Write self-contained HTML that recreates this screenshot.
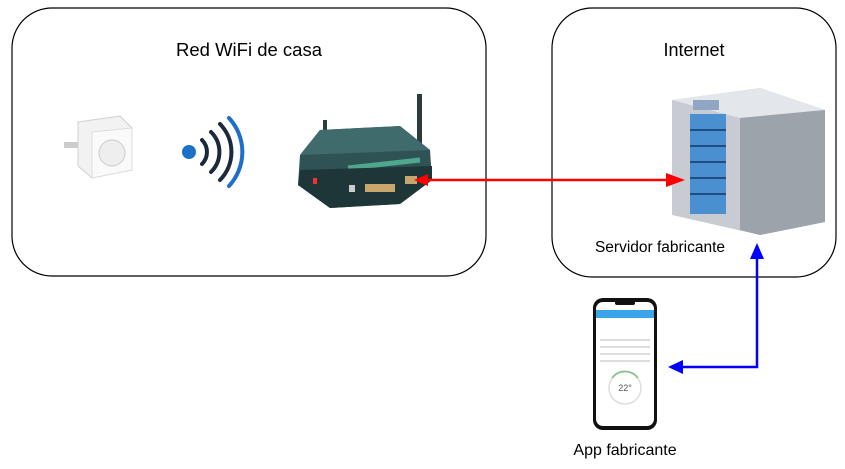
<!DOCTYPE html>
<html><head><meta charset="utf-8"><style>body{margin:0;background:#fff}svg{display:block}text{font-family:"Liberation Sans",Arial,sans-serif}</style></head>
<body>
<svg width="845" height="469" viewBox="0 0 845 469" xmlns="http://www.w3.org/2000/svg">
<rect x="12" y="8" width="474" height="268" rx="40" fill="#fff" stroke="#000" stroke-width="1.2"/>
<rect x="552" y="8" width="284" height="269" rx="40" fill="#fff" stroke="#000" stroke-width="1.2"/>
<text x="249" y="56" font-size="18.5" text-anchor="middle">Red WiFi de casa</text>
<text x="694" y="56" font-size="18" text-anchor="middle">Internet</text>
<text x="660" y="252" font-size="15.5" text-anchor="middle">Servidor fabricante</text>
<text x="625" y="455" font-size="16" text-anchor="middle">App fabricante</text>
<!-- plug -->
<g>
<path d="M78 122 L120 116 L132 128 L132 170 L92 178 L78 166 Z" fill="#f2f2f2" stroke="#d0d0d0"/>
<path d="M92 132 L132 128 L132 170 L92 178 Z" fill="#fafafa" stroke="#ddd"/>
<circle cx="112" cy="153" r="13" fill="#eee" stroke="#ccc"/>
<rect x="64" y="142" width="14" height="6" fill="#ccc"/>
</g>
<!-- wifi -->
<circle cx="189" cy="152" r="7" fill="#1e6fc8"/>
<g fill="none" stroke-linecap="round" stroke-width="4">
<path d="M202 140 A17 17 0 0 1 202 164" stroke="#1b2a3a"/>
<path d="M211 132 A28 28 0 0 1 211 172" stroke="#1b2a3a"/>
<path d="M220 124 A40 40 0 0 1 220 180" stroke="#1b2a3a"/>
<path d="M229 118 A50 50 0 0 1 229 186" stroke="#1e6fc8"/>
</g>
<!-- router -->
<g>
<rect x="323" y="120" width="4" height="70" fill="#2b3c40"/>
<rect x="417" y="94" width="5" height="70" fill="#2b3c40"/>
<path d="M300 155 L320 130 L400 126 L430 150 L432 180 L400 204 L330 208 L298 185 Z" fill="#2f5254"/>
<path d="M320 130 L400 126 L430 150 L300 155 Z" fill="#3f6b6c"/>
<path d="M348 168 L420 160" stroke="#4fa88e" stroke-width="5"/>
<path d="M298 185 L330 208 L400 204 L432 180 L432 166 L300 170 Z" fill="#1f3638"/>
<rect x="365" y="184" width="30" height="8" fill="#c9a66b"/>
<rect x="405" y="176" width="12" height="8" fill="#c9a66b"/>
<rect x="349" y="185" width="6" height="7" fill="#ccc"/>
<rect x="313" y="178" width="4" height="6" fill="#e33"/>
</g>
<!-- server -->
<g>
<path d="M672 100 L760 88 L825 110 L825 222 L760 235 L672 215 Z" fill="#c8ccd2"/>
<path d="M672 100 L760 88 L825 110 L740 118 Z" fill="#e3e6ea"/>
<path d="M740 118 L825 110 L825 222 L760 235 L740 230 Z" fill="#9da3ab"/>
<rect x="690" y="114" width="36" height="100" fill="#4a8fd0"/>
<g stroke="#1f4f80" stroke-width="2">
<line x1="690" y1="130" x2="726" y2="130"/><line x1="690" y1="146" x2="726" y2="146"/>
<line x1="690" y1="162" x2="726" y2="162"/><line x1="690" y1="178" x2="726" y2="178"/>
<line x1="690" y1="194" x2="726" y2="194"/></g>
<rect x="693" y="100" width="26" height="10" fill="#8fa7c4"/>
</g>
<!-- phone -->
<g>
<rect x="593" y="298" width="64" height="132" rx="10" fill="#111"/>
<rect x="596" y="302" width="58" height="124" rx="7" fill="#fff"/>
<rect x="596" y="310" width="58" height="8" fill="#3aa4e6"/>
<rect x="615" y="300" width="20" height="5" rx="2" fill="#111"/>
<circle cx="625" cy="388" r="16" fill="none" stroke="#ddd" stroke-width="1.5"/>
<path d="M612 378 A16 16 0 0 1 638 378" fill="none" stroke="#7bc47f" stroke-width="1.5"/>
<text x="625" y="391" font-size="9" text-anchor="middle" fill="#555">22°</text>
<g stroke="#bbb" stroke-width="1"><line x1="600" y1="340" x2="650" y2="340"/><line x1="600" y1="347" x2="650" y2="347"/><line x1="600" y1="354" x2="650" y2="354"/><line x1="600" y1="361" x2="650" y2="361"/></g>
</g>
<!-- red arrow -->
<line x1="428" y1="180" x2="670" y2="180" stroke="#f00" stroke-width="2.5"/>
<polygon points="414,180 428,174 428,186" fill="#f00"/>
<polygon points="685,180 666,173 666,187" fill="#f00"/>
<!-- blue arrow -->
<polyline points="683,367 757,367 757,258" fill="none" stroke="#00f" stroke-width="2.5"/>
<polygon points="668,367 683,360 683,374" fill="#00f"/>
<polygon points="757,243 750,259 764,259" fill="#00f"/>
</svg>
</body></html>
